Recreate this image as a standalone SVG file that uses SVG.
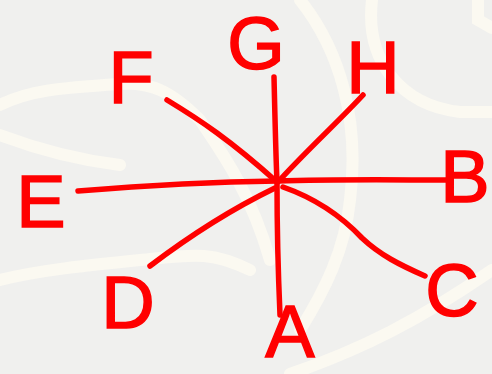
<svg xmlns="http://www.w3.org/2000/svg" width="492" height="374" viewBox="0 0 492 374">
<style>
.bg{fill:none;stroke:#fbf9f1;stroke-width:12;stroke-linecap:round}
.ln{fill:none;stroke:#ff0000;stroke-width:5.5;stroke-linecap:round;stroke-linejoin:round}
.lb{font-family:"Liberation Sans",Arial,sans-serif;font-size:74px;fill:#ff0000;stroke:#ff0000;stroke-width:1.5;text-anchor:middle}
</style>
<rect width="492" height="374" fill="#f0f0ee"/>
<g id="background">
<path class="bg" d="M372,0 C365,60 400,105 460,112 L492,112"/>
<path class="bg" d="M300,0 C340,50 360,120 350,200 C345,250 325,290 300,330"/>
<path class="bg" d="M0,105 C30,90 60,88 120,84 C150,82 170,90 200,120 C220,150 250,190 270,260"/>
<path class="bg" d="M0,280 C40,270 90,265 140,260 C190,255 210,250 250,270"/>
<path class="bg" d="M290,374 C360,350 420,320 492,270"/>
<path class="bg" d="M0,135 C40,150 80,160 120,165"/>
<path class="bg" d="M478,0 L478,20 L492,28"/>
</g>
<g id="connectors">
<path class="ln" d="M274,77 C275,120 276,160 277,182 C277,230 278,270 280,315"/>
<path class="ln" d="M363,95 C340,120 305,152 278,182"/>
<path class="ln" d="M167,100 C200,120 230,140 277,182"/>
<path class="ln" d="M78,191 C140,186 200,182 277,181"/>
<path class="ln" d="M277,181 C340,179 400,180 446,180"/>
<path class="ln" d="M283,187 C320,200 345,220 362,238 C380,255 400,265 425,276"/>
<path class="ln" d="M275,188 C240,205 200,228 150,266"/>
</g>
<g id="node-G"><text class="lb" x="256" y="69">G</text></g>
<g id="node-H"><text class="lb" x="373" y="93">H</text></g>
<g id="node-F"><text class="lb" x="131" y="103">F</text></g>
<g id="node-E"><text class="lb" x="41" y="227">E</text></g>
<g id="node-B"><text class="lb" x="465" y="202">B</text></g>
<g id="node-C"><text class="lb" x="452" y="316">C</text></g>
<g id="node-D"><text class="lb" x="128" y="328">D</text></g>
<g id="node-A"><text class="lb" x="290" y="357">A</text></g>
</svg>
